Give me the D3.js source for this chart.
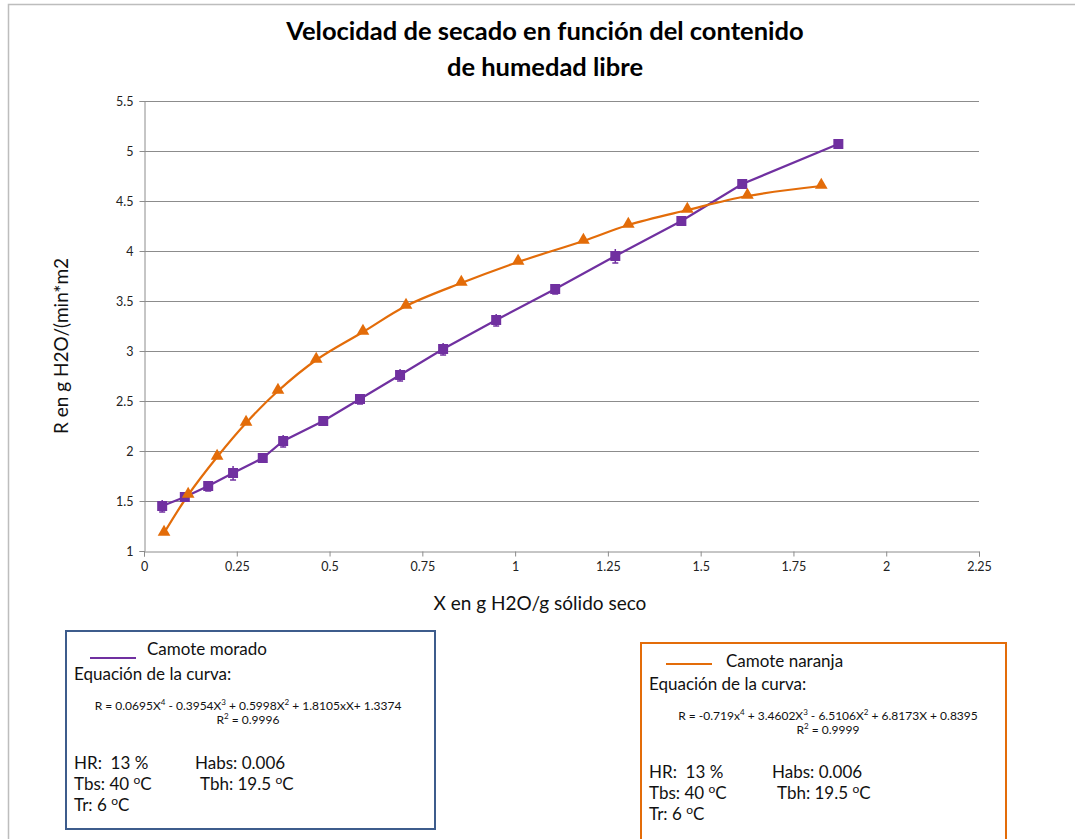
<!DOCTYPE html>
<html>
<head>
<meta charset="utf-8">
<script src="https://cdn.jsdelivr.net/npm/d3@7"></script>
<style>
  html, body { margin: 0; padding: 0; background: #fff; }
  svg { display: block; font-family: Lato, "Open Sans", "Liberation Sans", sans-serif; }
  text { white-space: pre; }
</style>
</head>
<body>
<svg id="chart" width="1075" height="839"></svg>
<script>
// Drying rate R vs free moisture content X, two sweet potato varieties
const xMorado   = [0.049, 0.110, 0.173, 0.240, 0.320, 0.375, 0.483, 0.582, 0.690, 0.806, 0.949, 1.108, 1.270, 1.448, 1.612, 1.871];
const rMorado   = [1.45, 1.54, 1.65, 1.78, 1.93, 2.10, 2.30, 2.52, 2.76, 3.02, 3.31, 3.62, 3.95, 4.30, 4.67, 5.07];
const errMorado = [0.06, 0.04, 0.05, 0.07, 0.04, 0.06, 0.04, 0.05, 0.06, 0.06, 0.06, 0.05, 0.07, 0.02, 0.02, 0.02];

const xNaranja  = [0.054, 0.119, 0.197, 0.275, 0.361, 0.464, 0.590, 0.706, 0.855, 1.008, 1.184, 1.305, 1.464, 1.626, 1.825];
const rNaranja  = [1.18, 1.56, 1.94, 2.28, 2.60, 2.91, 3.19, 3.45, 3.68, 3.89, 4.10, 4.26, 4.41, 4.55, 4.65];

const xTicks = [0, 0.25, 0.5, 0.75, 1, 1.25, 1.5, 1.75, 2, 2.25];
const yTicks = [1, 1.5, 2, 2.5, 3, 3.5, 4, 4.5, 5, 5.5];
const xTickLabels = ["0", "0.25", "0.5", "0.75", "1", "1.25", "1.5", "1.75", "2", "2.25"];
const yTickLabels = ["1", "1.5", "2", "2.5", "3", "3.5", "4", "4.5", "5", "5.5"];

const PURPLE = "#7030a0";
const ORANGE = "#e36c09";

const svg = d3.select("#chart");

// chart frame
svg.append("path")
  .attr("d", "M8.5,839 L8.5,4.5 L1075,4.5")
  .attr("fill", "none").attr("stroke", "#bdbdbd").attr("stroke-width", 1.5);

const plot = { left: 144, right: 979, top: 101, bottom: 551 };
const x = d3.scaleLinear().domain([0, 2.25]).range([plot.left, plot.right]);
const y = d3.scaleLinear().domain([1, 5.5]).range([plot.bottom, plot.top]);

// title
const title = svg.append("text")
  .attr("text-anchor", "middle")
  .attr("font-size", 25.5).attr("font-weight", "bold").attr("fill", "#000");
title.append("tspan").attr("x", 545).attr("y", 40).text("Velocidad de secado en función del contenido");
title.append("tspan").attr("x", 545).attr("y", 76).text("de humedad libre");

// horizontal gridlines
svg.append("g").selectAll("line").data(yTicks.slice(1)).join("line")
  .attr("x1", plot.left).attr("x2", plot.right)
  .attr("y1", d => Math.round(y(d)) + 0.5).attr("y2", d => Math.round(y(d)) + 0.5)
  .attr("stroke", "#8c8c8c").attr("stroke-width", 1);

// axes
const xAxis = d3.axisBottom(x).tickValues(xTicks)
  .tickFormat((d, i) => xTickLabels[i]).tickSize(5).tickPadding(6);
const gx = svg.append("g").attr("transform", `translate(0,${plot.bottom + 0.5})`).call(xAxis);
gx.select(".domain").attr("stroke", "#8c8c8c");
gx.selectAll(".tick line").attr("stroke", "#8c8c8c");
gx.selectAll(".tick text").attr("font-size", 12.5).attr("fill", "#222")
  .attr("font-family", "Lato, sans-serif");

const yAxis = d3.axisLeft(y).tickValues(yTicks)
  .tickFormat((d, i) => yTickLabels[i]).tickSize(5).tickPadding(6);
const gy = svg.append("g").attr("transform", `translate(${plot.left + 0.5},0)`).call(yAxis);
gy.select(".domain").attr("stroke", "#8c8c8c");
gy.selectAll(".tick line").attr("stroke", "#8c8c8c");
gy.selectAll(".tick text").attr("font-size", 12.5).attr("fill", "#222")
  .attr("font-family", "Lato, sans-serif");

// axis titles
svg.append("text")
  .attr("transform", "translate(68,346) rotate(-90)")
  .attr("text-anchor", "middle").attr("font-size", 19).attr("fill", "#111")
  .text("R en g H2O/(min*m2");
svg.append("text")
  .attr("x", 540).attr("y", 610)
  .attr("text-anchor", "middle").attr("font-size", 19).attr("fill", "#111")
  .text("X en g H2O/g sólido seco");

// series
const morado = xMorado.map((v, i) => ({ x: v, r: rMorado[i], e: errMorado[i] }));
const naranja = xNaranja.map((v, i) => ({ x: v, r: rNaranja[i] }));

svg.append("path").datum(morado)
  .attr("fill", "none").attr("stroke", PURPLE).attr("stroke-width", 2.2)
  .attr("d", d3.line().x(d => x(d.x)).y(d => y(d.r)));

svg.append("path").datum(naranja)
  .attr("fill", "none").attr("stroke", ORANGE).attr("stroke-width", 2.2)
  .attr("d", d3.line().curve(d3.curveCatmullRom.alpha(0.5)).x(d => x(d.x)).y(d => y(d.r)));

// error bars on the purple series
const eb = svg.append("g").attr("stroke", PURPLE).attr("stroke-width", 1.5);
eb.selectAll("line.v").data(morado).join("line")
  .attr("x1", d => x(d.x)).attr("x2", d => x(d.x))
  .attr("y1", d => y(d.r - d.e)).attr("y2", d => y(d.r + d.e));
eb.selectAll("line.lo").data(morado).join("line")
  .attr("x1", d => x(d.x) - 3).attr("x2", d => x(d.x) + 3)
  .attr("y1", d => y(d.r - d.e)).attr("y2", d => y(d.r - d.e));

// markers
svg.append("g").selectAll("rect").data(morado).join("rect")
  .attr("x", d => x(d.x) - 5).attr("y", d => y(d.r) - 5)
  .attr("width", 10).attr("height", 10)
  .attr("fill", PURPLE);

const tri = d3.symbol().type(d3.symbolTriangle).size(70);
svg.append("g").selectAll("path").data(naranja).join("path")
  .attr("transform", d => `translate(${x(d.x)},${y(d.r) - 1})`)
  .attr("d", tri).attr("fill", ORANGE);

// info boxes
function infoBox(opt) {
  const g = svg.append("g");
  g.append("rect")
    .attr("x", opt.x).attr("y", opt.y).attr("width", opt.w).attr("height", opt.h)
    .attr("fill", "#fff").attr("stroke", opt.border).attr("stroke-width", 2);
  g.append("line")
    .attr("x1", opt.x + opt.lineX0).attr("x2", opt.x + opt.lineX1)
    .attr("y1", opt.y + opt.lineY).attr("y2", opt.y + opt.lineY)
    .attr("stroke", opt.color).attr("stroke-width", 2.2);
  const t = (dx, dy, s) => g.append("text")
    .attr("x", opt.x + dx).attr("y", opt.y + dy)
    .attr("font-size", 17).attr("fill", "#111").text(s);
  t(opt.nameX, opt.nameY, opt.name);
  t(8, opt.eqY, "Equación de la curva:");

  // equation with superscripts
  const eq = g.append("text").attr("x", opt.x + opt.eqCx).attr("y", opt.y + opt.eqY + 30)
    .attr("text-anchor", "middle").attr("font-size", 12).attr("fill", "#111");
  opt.eqParts.forEach(p => {
    const s = eq.append("tspan").text(p[0]);
    if (p[1]) s.attr("font-size", 8).attr("dy", -5);
    else if (p[2]) s.attr("dy", 5);
  });
  const r2 = g.append("text").attr("x", opt.x + opt.eqCx).attr("y", opt.y + opt.eqY + 44)
    .attr("text-anchor", "middle").attr("font-size", 12).attr("fill", "#111");
  r2.append("tspan").text("R");
  r2.append("tspan").attr("font-size", 8).attr("dy", -5).text("2");
  r2.append("tspan").attr("dy", 5).text(" = " + opt.r2);

  const deg = (dx, dy, pre) => {
    const tx = g.append("text").attr("x", opt.x + dx).attr("y", opt.y + dy)
      .attr("font-size", 17).attr("fill", "#111");
    tx.append("tspan").text(pre);
    tx.append("tspan").attr("font-size", 12).attr("dy", -6).text("o");
    tx.append("tspan").attr("dy", 6).text("C");
  };
  t(8, opt.hrY, "HR:  13 %");
  t(opt.col2, opt.hrY, "Habs: 0.006");
  deg(8, opt.hrY + 21, "Tbs: 40 ");
  deg(opt.col2 + 5, opt.hrY + 21, "Tbh: 19.5 ");
  deg(8, opt.hrY + 42, "Tr: 6 ");
}

infoBox({
  x: 66, y: 631, w: 369, h: 198, border: "#3d5c8c", color: PURPLE,
  lineX0: 24, lineX1: 70, lineY: 27, nameX: 81, nameY: 24,
  name: "Camote morado", eqY: 49, eqCx: 182, col2: 129, hrY: 138,
  eqParts: [["R = 0.0695X"], ["4", true], [" - 0.3954X", false, true], ["3", true],
            [" + 0.5998X", false, true], ["2", true], [" + 1.8105xX+ 1.3374", false, true]],
  r2: "0.9996"
});

infoBox({
  x: 641, y: 643, w: 365, h: 210, border: ORANGE, color: ORANGE,
  lineX0: 25, lineX1: 71, lineY: 21, nameX: 85, nameY: 24,
  name: "Camote naranja", eqY: 47, eqCx: 187, col2: 131, hrY: 135,
  eqParts: [["R = -0.719x"], ["4", true], [" + 3.4602X", false, true], ["3", true],
            [" - 6.5106X", false, true], ["2", true], [" + 6.8173X + 0.8395", false, true]],
  r2: "0.9999"
});
</script>
</body>
</html>
